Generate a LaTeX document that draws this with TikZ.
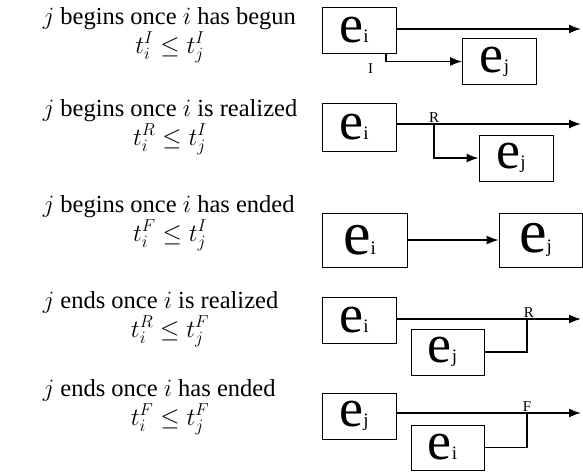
\documentclass[tikz,border=0pt]{standalone}
\usepackage{amsmath,amssymb}
\usepackage{fontspec}
\setmainfont{Liberation Serif}
\usetikzlibrary{positioning, arrows.meta}

\newcommand{\evt}[2][54]{{\fontsize{#1}{#1}\selectfont e}{\fontsize{19}{19}\selectfont #2}\hspace*{10pt}}

\begin{document}
\begin{tikzpicture}
	[x=1pt, y=-1pt, line width=1.6pt, >={Latex[length=12pt,width=9pt]},
	 ev/.style={draw, line width=0.8pt, minimum width=74pt, minimum height=46pt, inner sep=0pt},
	 rule/.style={font=\fontsize{24.5}{28}\selectfont, anchor=base west, inner sep=0pt},
	 cond/.style={font=\fontsize{24}{28}\selectfont, anchor=base, inner sep=0pt},
	 tag/.style={font=\fontsize{15}{15}\selectfont, inner sep=1pt}]
   \useasboundingbox (0,0) rectangle (583,475);
   % row 1
   \node[rule] (txt_1) at (42,24) {$j$ begins once $i$ has begun};
   \node[cond] (eq_1) at (170,53) {$t_i^I \le t_j^I$};
   \node[ev] (ei_1) at (359,30) {\evt{i}};
   \node[ev] (ej_1) at (499.5,61.5) {\evt{j}};
   \coordinate (end_1) at (581,29);
   \coordinate (s_1) at (386,53);
   \node[tag] (lab_1) [below left=9pt and 11pt of s_1] {I};
   % row 2
   \node[rule] (txt_2) at (42,116) {$j$ begins once $i$ is realized};
   \node[cond] (eq_2) at (170,145) {$t_i^R \le t_j^I$};
   \node[ev, minimum height=48pt] (ei_2) at (359,127) {\evt{i}};
   \node[ev] (ej_2) at (516,158) {\evt{j}};
   \coordinate (end_2) at (581,124);
   \coordinate (s_2) at (434,124);
   \node[tag] (lab_2) [above=0pt of s_2] {R};
   % row 3
   \node[rule] (txt_3) at (42,212) {$j$ begins once $i$ has ended};
   \node[cond] (eq_3) at (170,241) {$t_i^F \le t_j^I$};
   \node[ev, minimum width=85pt, minimum height=54pt] (ei_3) at (364.5,240) {\evt[62]{i}};
   \node[ev, minimum width=83pt, minimum height=54pt] (ej_3) at (540.5,240) {\evt[62]{j}};
   % row 4
   \node[rule] (txt_4) at (42,308) {$j$ ends once $i$ is realized};
   \node[cond] (eq_4) at (170,337) {$t_i^R \le t_j^F$};
   \node[ev] (ei_4) at (359,320) {\evt{i}};
   \node[ev, minimum width=73pt] (ej_4) at (447.5,352) {\evt{j}};
   \coordinate (end_4) at (581,319);
   \coordinate (s_4) at (527,319);
   \node[tag] (lab_4) [above right=0pt and -5pt of s_4] {R};
   % row 5
   \node[rule] (txt_5) at (42,396) {$j$ ends once $i$ has ended};
   \node[cond] (eq_5) at (170,425) {$t_i^F \le t_j^F$};
   \node[ev] (ej_5) at (359,416) {\evt{j}};
   \node[ev, minimum width=73pt, minimum height=45pt] (ei_5) at (447.5,447.5) {\evt{i}};
   \coordinate (end_5) at (581,413);
   \coordinate (s_5) at (527,413);
   \node[tag] (lab_5) [above=0pt of s_5] {F};

   \draw[->] (ei_1.east |- end_1) -- (end_1);
   \draw[->] (s_1) |- (ej_1.west);
   \draw[->] (ei_2.east |- end_2) -- (end_2);
   \draw[->] (s_2) |- (ej_2.west);
   \draw[->] (ei_3) -- (ej_3);
   \draw[->] (ei_4.east |- end_4) -- (end_4);
   \draw (ej_4.east) -| (s_4);
   \draw[->] (ej_5.east |- end_5) -- (end_5);
   \draw (ei_5.east) -| (s_5);
\end{tikzpicture}
\end{document}
